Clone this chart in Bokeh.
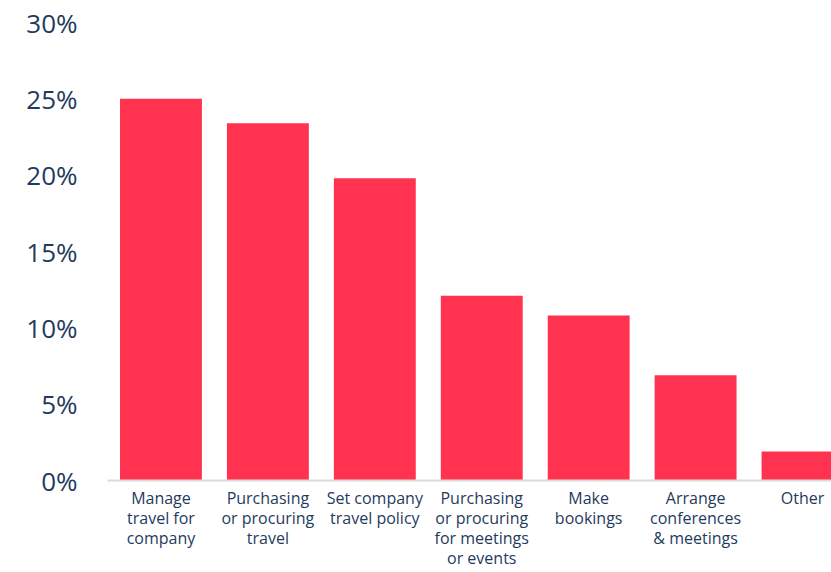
from bokeh.plotting import figure
from bokeh.models import Range1d, FixedTicker, PrintfTickFormatter
from bokeh.embed import file_html
from bokeh.resources import INLINE

categories = [
    "Manage\ntravel for\ncompany",
    "Purchasing\nor procuring\ntravel",
    "Set company\ntravel policy",
    "Purchasing\nor procuring\nfor meetings\nor events",
    "Make\nbookings",
    "Arrange\nconferences\n& meetings",
    "Other",
]
values = [25.0, 23.4, 19.8, 12.1, 10.8, 6.9, 1.9]
y_ticks = [0, 5, 10, 15, 20, 25, 30]

xs = list(range(len(categories)))

p = figure(width=831, height=572, output_backend="svg", toolbar_location=None,
           x_range=Range1d(-0.5, 6.271), y_range=Range1d(0, 30),
           min_border_left=107, min_border_right=0, min_border_top=22, min_border_bottom=92)
p.outline_line_color = None
p.background_fill_color = "white"
p.border_fill_color = "white"

p.vbar(x=xs, top=values, width=0.766, bottom=0, fill_color="#FF334F", line_color=None)

text_color = "#1F3B5E"
font = "Open Sans"

p.xgrid.visible = False
p.ygrid.visible = False

xa = p.xaxis[0]
xa.ticker = FixedTicker(ticks=xs)
xa.major_label_overrides = {i: c for i, c in enumerate(categories)}
xa.axis_line_color = "#D9D9D9"
xa.axis_line_width = 2
xa.major_tick_line_color = None
xa.minor_tick_line_color = None
xa.major_label_text_font = font
xa.major_label_text_font_size = "16px"
xa.major_label_text_color = text_color
xa.major_label_text_line_height = 0.92
xa.major_label_standoff = 0

ya = p.yaxis[0]
ya.ticker = FixedTicker(ticks=y_ticks)
ya.formatter = PrintfTickFormatter(format="%d%%")
ya.axis_line_color = None
ya.major_tick_line_color = None
ya.minor_tick_line_color = None
ya.major_label_text_font = font
ya.major_label_text_font_size = "26px"
ya.major_label_text_color = text_color
ya.major_label_standoff = 24

open("out.html", "w").write(file_html(p, INLINE))
